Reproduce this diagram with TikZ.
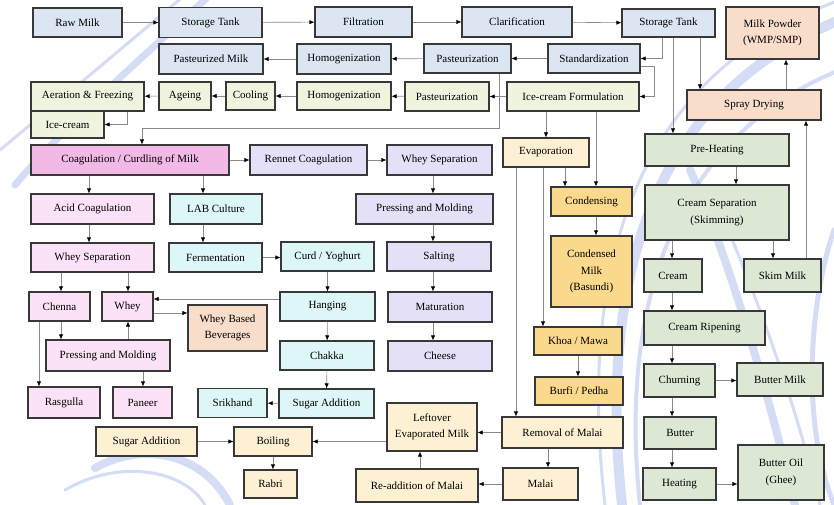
\documentclass[tikz,border=0pt]{standalone}
\usepackage{fontspec}
\setmainfont{Liberation Serif}
\usetikzlibrary{arrows.meta}
\definecolor{boxline}{HTML}{383838}
\definecolor{linegray}{HTML}{8A8A8A}
\definecolor{swoosh}{HTML}{9FB2EA}
\definecolor{milkfill}{HTML}{DCE6F2}
\definecolor{icefill}{HTML}{EFF4DE}
\definecolor{peachfill}{HTML}{F8DDCB}
\definecolor{coagfill}{HTML}{F2B8E6}
\definecolor{pinkfill}{HTML}{FCE2F7}
\definecolor{lavfill}{HTML}{E4E0F7}
\definecolor{cyanfill}{HTML}{DDF6F8}
\definecolor{creamfill}{HTML}{FEF1D3}
\definecolor{goldfill}{HTML}{FBD98C}
\definecolor{sagefill}{HTML}{DCE8D4}
\tikzset{
  box/.style={draw=boxline,line width=1.1pt,inner sep=1pt,align=center,
    font=\fontsize{11}{16.5}\selectfont},
  arr/.style={draw=linegray,line width=.6pt,-{Latex[length=5pt,width=4.2pt,color=black]}},
  wave/.style={draw=swoosh,line cap=round,opacity=.45}
}
\begin{document}
\begin{tikzpicture}[x=1pt,y=-1pt]
\useasboundingbox (0,0) rectangle (834,505);
% background swooshes
\draw[wave,line width=7pt] (210,-5) .. controls (140,60) and (70,120) .. (15,185);
\draw[wave,line width=3pt] (185,-5) .. controls (120,50) and (60,100) .. (0,150);
\draw[wave,line width=10pt] (622,505) .. controls (600,300) and (640,100) .. (840,20);
\draw[wave,line width=4pt] (640,505) .. controls (620,320) and (665,140) .. (840,70);
\draw[wave,line width=3pt] (605,505) .. controls (580,290) and (620,80) .. (840,0);
\draw[wave,line width=8pt] (690,170) .. controls (730,260) and (770,400) .. (795,505);
\draw[wave,line width=3pt] (715,200) .. controls (760,300) and (800,420) .. (820,505);
\draw[wave,line width=5pt] (834,230) .. controls (810,300) and (800,420) .. (834,505);
\draw[wave,line width=8pt] (95,468) .. controls (145,440) and (205,455) .. (230,505);
\draw[wave,line width=3pt] (65,490) .. controls (120,458) and (185,470) .. (205,505);
% milk line
\node[box,fill=milkfill,minimum width=89,minimum height=29] (rawmilk) at (77.5,22.5) {Raw Milk};
\node[box,fill=milkfill,minimum width=103,minimum height=30] (tankA) at (210.5,22.5) {Storage Tank};
\node[box,fill=milkfill,minimum width=97,minimum height=30] (filtration) at (363.5,22) {Filtration};
\node[box,fill=milkfill,minimum width=110,minimum height=30] (clarification) at (517,22) {Clarification};
\node[box,fill=milkfill,minimum width=93,minimum height=28] (tankB) at (668.5,23) {Storage Tank};
\node[box,fill=milkfill,minimum width=104,minimum height=30] (pastmilk) at (211,59) {Pasteurized Milk};
\node[box,fill=milkfill,minimum width=94,minimum height=30] (homogA) at (344,59) {Homogenization};
\node[box,fill=milkfill,minimum width=87,minimum height=29] (pastA) at (467.5,58.5) {Pasteurization};
\node[box,fill=milkfill,minimum width=92,minimum height=29] (standard) at (594,58.5) {Standardization};
% ice-cream line
\node[box,fill=icefill,minimum width=113,minimum height=29] (aeration) at (87.5,96.5) {Aeration \& Freezing};
\node[box,fill=icefill,minimum width=73,minimum height=27] (icecream) at (67.5,124.5) {Ice-cream};
\node[box,fill=icefill,minimum width=52,minimum height=28] (ageing) at (185,96) {Ageing};
\node[box,fill=icefill,minimum width=49,minimum height=28] (cooling) at (250.5,96) {Cooling};
\node[box,fill=icefill,minimum width=94,minimum height=28] (homogB) at (344,96) {Homogenization};
\node[box,fill=icefill,minimum width=84,minimum height=29] (pastB) at (447,96.5) {Pasteurization};
\node[box,fill=icefill,minimum width=132,minimum height=29] (icform) at (573,96.5) {Ice-cream Formulation};
% milk powder
\node[box,fill=peachfill,minimum width=93,minimum height=52] (powder) at (772.5,33) {Milk Powder\\(WMP/SMP)};
\node[box,fill=peachfill,minimum width=134,minimum height=30] (spray) at (754,105) {Spray Drying};
% coagulation
\node[box,fill=coagfill,minimum width=198,minimum height=30] (coag) at (130,160) {Coagulation / Curdling of Milk};
\node[box,fill=pinkfill,minimum width=123,minimum height=30] (acid) at (92.5,209) {Acid Coagulation};
\node[box,fill=pinkfill,minimum width=123,minimum height=29] (wheysepA) at (92.5,257.5) {Whey Separation};
\node[box,fill=pinkfill,minimum width=61,minimum height=29] (chenna) at (59.5,306.5) {Chenna};
\node[box,fill=pinkfill,minimum width=51,minimum height=29] (whey) at (127.5,306.5) {Whey};
\node[box,fill=pinkfill,minimum width=124,minimum height=31] (pressA) at (108,355.5) {Pressing and Molding};
\node[box,fill=pinkfill,minimum width=72,minimum height=31] (rasgulla) at (64,402.5) {Rasgulla};
\node[box,fill=pinkfill,minimum width=59,minimum height=31] (paneer) at (142.5,402.5) {Paneer};
\node[box,fill=peachfill,minimum width=79,minimum height=46] (beverages) at (227.5,328) {Whey Based\\Beverages};
% cheese
\node[box,fill=lavfill,minimum width=117,minimum height=30] (rennet) at (308.5,160) {Rennet Coagulation};
\node[box,fill=lavfill,minimum width=105,minimum height=30] (wheysepB) at (439.5,160) {Whey Separation};
\node[box,fill=lavfill,minimum width=137,minimum height=30] (pressB) at (424.5,209) {Pressing and Molding};
\node[box,fill=lavfill,minimum width=104,minimum height=29] (salting) at (439,256.5) {Salting};
\node[box,fill=lavfill,minimum width=104,minimum height=30] (maturation) at (440,307) {Maturation};
\node[box,fill=lavfill,minimum width=104,minimum height=30] (cheese) at (440,356) {Cheese};
% fermented
\node[box,fill=cyanfill,minimum width=92,minimum height=30] (lab) at (216,209) {LAB Culture};
\node[box,fill=cyanfill,minimum width=93,minimum height=29] (ferment) at (215.5,257.5) {Fermentation};
\node[box,fill=cyanfill,minimum width=93,minimum height=29] (curd) at (327.5,256.5) {Curd / Yoghurt};
\node[box,fill=cyanfill,minimum width=95,minimum height=29] (hanging) at (327.5,306.5) {Hanging};
\node[box,fill=cyanfill,minimum width=94,minimum height=29] (chakka) at (327,355.5) {Chakka};
\node[box,fill=cyanfill,minimum width=95,minimum height=29] (sugarA) at (326.5,403.5) {Sugar Addition};
\node[box,fill=cyanfill,minimum width=69,minimum height=29] (srikhand) at (232.5,403) {Srikhand};
% evaporation
\node[box,fill=creamfill,minimum width=86,minimum height=29] (evap) at (546,152.5) {Evaporation};
\node[box,fill=goldfill,minimum width=81,minimum height=29] (condensing) at (591.5,201.5) {Condensing};
\node[box,fill=goldfill,minimum width=81,minimum height=71] (condensed) at (591.5,271.5) {Condensed\\Milk\\(Basundi)};
\node[box,fill=goldfill,minimum width=88,minimum height=28] (khoa) at (578,341) {Khoa / Mawa};
\node[box,fill=goldfill,minimum width=88,minimum height=28] (burfi) at (579,391) {Burfi / Pedha};
\node[box,fill=creamfill,minimum width=121,minimum height=31] (removal) at (562.5,432.5) {Removal of Malai};
\node[box,fill=creamfill,minimum width=90,minimum height=48] (leftover) at (432,427) {Leftover\\Evaporated Milk};
\node[box,fill=creamfill,minimum width=75,minimum height=32] (malai) at (540.5,484) {Malai};
\node[box,fill=creamfill,minimum width=122,minimum height=33] (readd) at (417,485.5) {Re-addition of Malai};
\node[box,fill=creamfill,minimum width=78,minimum height=29] (boiling) at (273,441.5) {Boiling};
\node[box,fill=creamfill,minimum width=101,minimum height=29] (sugarB) at (146.5,441.5) {Sugar Addition};
\node[box,fill=creamfill,minimum width=53,minimum height=28] (rabri) at (270.5,484) {Rabri};
% cream and butter
\node[box,fill=sagefill,minimum width=144,minimum height=32] (preheat) at (717,150) {Pre-Heating};
\node[box,fill=sagefill,minimum width=144,minimum height=55] (creamsep) at (717,212.5) {Cream Separation\\(Skimming)};
\node[box,fill=sagefill,minimum width=58,minimum height=33] (cream) at (673,275.5) {Cream};
\node[box,fill=sagefill,minimum width=77,minimum height=33] (skim) at (782.5,275.5) {Skim Milk};
\node[box,fill=sagefill,minimum width=121,minimum height=34] (ripening) at (704.5,328) {Cream Ripening};
\node[box,fill=sagefill,minimum width=71,minimum height=33] (churning) at (679.5,380.5) {Churning};
\node[box,fill=sagefill,minimum width=86,minimum height=33] (buttermilk) at (780,379.5) {Butter Milk};
\node[box,fill=sagefill,minimum width=72,minimum height=32] (butter) at (680,433) {Butter};
\node[box,fill=sagefill,minimum width=73,minimum height=32] (heating) at (679.5,484) {Heating};
\node[box,fill=sagefill,minimum width=86,minimum height=55] (ghee) at (781,472.5) {Butter Oil\\(Ghee)};
% connectors: milk line
\draw[arr] (rawmilk) -- (tankA);
\draw[arr] (tankA) -- (filtration);
\draw[arr] (filtration) -- (clarification);
\draw[arr] (clarification) -- (tankB);
\draw[arr] (tankB.south -| 662,0) |- (standard.east);
\draw[arr] (standard) -- (pastA);
\draw[arr] (pastA) -- (homogA);
\draw[arr] (homogA) -- (pastmilk);
\draw[arr] (standard.east |- 0,66) -- ++(14,0) |- (icform.east);
\draw[arr] (icform) -- (pastB);
\draw[arr] (pastB) -- (homogB);
\draw[arr] (homogB) -- (cooling);
\draw[arr] (cooling) -- (ageing);
\draw[arr] (ageing) -- (aeration);
\draw[arr] (aeration.south -| 127,0) |- (icecream.east);
\draw[arr] (pastA.south -| 499,0) -- ++(0,55) -| ([xshift=12pt]coag.north);
\draw[arr] (tankB.south -| 700,0) -- (spray.north -| 700,0);
\draw[arr] (spray.north -| 786,0) -- (powder.south -| 786,0);
\draw[arr] (tankB.south -| 673,0) -- (preheat.north -| 673,0);
% evaporation
\draw[arr] (icform.south -| evap.north) -- (evap.north);
\draw[arr] (icform.south -| 596,0) -- (condensing.north -| 596,0);
\draw[arr] (evap.south -| 565,0) -- (condensing.north -| 565,0);
\draw[arr] (condensing.south -| 596,0) -- (condensed.north -| 596,0);
\draw[arr] (evap.south -| 543,0) -- (khoa.north -| 543,0);
\draw[arr] (khoa.south) -- (khoa.south |- burfi.north);
\draw[arr] (evap.south -| 516,0) -- (removal.north -| 516,0);
\draw[arr] (removal.west) -- (removal.west -| leftover.east);
\draw[arr] (removal.south -| 548,0) -- (malai.north -| 548,0);
\draw[arr] (malai.west) -- (malai.west -| readd.east);
\draw[arr] (readd.north -| 420,0) -- (leftover.south -| 420,0);
\draw[arr] (leftover.west |- boiling.east) -- (boiling.east);
\draw[arr] (sugarB) -- (boiling);
\draw[arr] (boiling.south) -- (boiling.south |- rabri.north);
% cream and butter
\draw[arr] (preheat.south -| 736,0) -- (creamsep.north -| 736,0);
\draw[arr] (creamsep.south -| 672,0) -- (cream.north -| 672,0);
\draw[arr] (creamsep.south -| 773,0) -- (skim.north -| 773,0);
\draw[arr] (skim.north -| 806,0) -- (spray.south -| 806,0);
\draw[arr] (cream.south -| 672,0) -- (ripening.north -| 672,0);
\draw[arr] (ripening.south -| 672,0) -- (churning.north -| 672,0);
\draw[arr] (churning.east) -- (churning.east -| buttermilk.west);
\draw[arr] (churning.south -| 672,0) -- (butter.north -| 672,0);
\draw[arr] (butter.south -| 672,0) -- (heating.north -| 672,0);
\draw[arr] (heating.east) -- (heating.east -| ghee.west);
% coagulation
\draw[arr] (coag) -- (rennet);
\draw[arr] (rennet) -- (wheysepB);
\draw[arr] (wheysepB.south -| 433,0) -- (pressB.north -| 433,0);
\draw[arr] (pressB.south -| 433,0) -- (salting.north -| 433,0);
\draw[arr] (salting.south -| 433,0) -- (maturation.north -| 433,0);
\draw[arr] (maturation.south -| 433,0) -- (cheese.north -| 433,0);
\draw[arr] (coag.south -| 89,0) -- (acid.north -| 89,0);
\draw[arr] (coag.south -| 203,0) -- (lab.north -| 203,0);
\draw[arr] (acid.south -| 89,0) -- (wheysepA.north -| 89,0);
\draw[arr] (wheysepA.south -| 61,0) -- (chenna.north -| 61,0);
\draw[arr] (wheysepA.south -| 128,0) -- (whey.north -| 128,0);
\draw[arr] (chenna.south -| 61,0) -- (pressA.north -| 61,0);
\draw[arr] (pressA.north -| 128,0) -- (whey.south -| 128,0);
\draw[arr] (pressA.south -| 143,0) -- (paneer.north -| 143,0);
\draw[arr] (chenna.south -| 39,0) -- (rasgulla.north -| 39,0);
\draw[arr] (whey.east |- 0,313) -- (beverages.west |- 0,313);
\draw[arr] (hanging.west |- 0,299) -- (whey.east |- 0,299);
\draw[arr] (lab.south -| 203,0) -- (ferment.north -| 203,0);
\draw[arr] (ferment.east) -- (ferment.east -| curd.west);
\draw[arr] (curd) -- (hanging);
\draw[arr] (hanging) -- (chakka);
\draw[arr] (chakka) -- (sugarA);
\draw[arr] (sugarA) -- (srikhand);
\end{tikzpicture}
\end{document}
